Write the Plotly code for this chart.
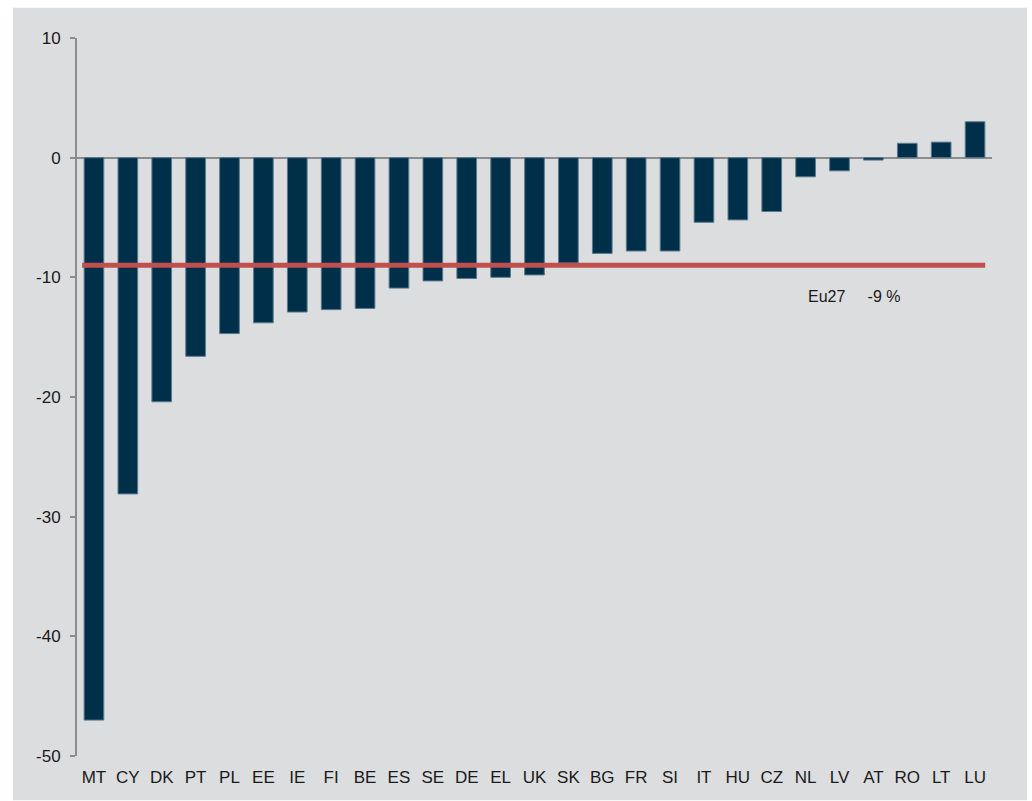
import plotly.graph_objects as go

# Country codes, ordered from the largest gap to the smallest
countries = ["MT", "CY", "DK", "PT", "PL", "EE", "IE", "FI", "BE", "ES", "SE", "DE", "EL",
             "UK", "SK", "BG", "FR", "SI", "IT", "HU", "CZ", "NL", "LV", "AT", "RO", "LT", "LU"]
values = [-47.0, -28.1, -20.4, -16.6, -14.7, -13.8, -12.9, -12.7, -12.6, -10.9, -10.3, -10.1, -10.0,
          -9.8, -8.8, -8.0, -7.8, -7.8, -5.4, -5.2, -4.5, -1.6, -1.1, -0.2, 1.2, 1.3, 3.0]

# EU-27 average
eu_label = "Eu27"
eu_value = -9

y_ticks = [10, 0, -10, -20, -30, -40, -50]
y_tick_text = ["10", "0", "-10", "-20", "-30", "-40", "-50"]

W, H = 1032, 801
left, right, top, bottom = 77, 992, 38.3, 755.7
pw, ph = right - left, bottom - top

panel_col = "#dcdddf"
bar_col = "#003049"
font_family = "Liberation Sans, Arial, sans-serif"

fig = go.Figure()
fig.add_trace(go.Bar(
    x=countries, y=values,
    marker=dict(color=bar_col, line=dict(color="#5a7a8e", width=1)),
    hoverinfo="x+y",
))

# grey panel behind the whole chart
fig.add_shape(type="rect", xref="paper", yref="paper", layer="below",
              x0=(13 - left) / pw, x1=(1027 - left) / pw,
              y0=(bottom - 800) / ph, y1=(bottom - 8) / ph,
              fillcolor=panel_col, line=dict(width=0))

# EU average line
fig.add_shape(type="line", xref="x", yref="y", x0=-0.35, x1=len(countries) - 0.7,
              y0=eu_value, y1=eu_value, line=dict(color="#c0504d", width=5))

nb = "\u00a0"
fig.add_annotation(x=21, y=-11.6, xref="x", yref="y", xanchor="left", yanchor="middle",
                   text=f"{eu_label}{nb * 5}{eu_value} %", showarrow=False,
                   font=dict(size=16, color="#1a1a1a", family=font_family))

fig.update_layout(
    width=W, height=H,
    margin=dict(l=left, r=W - right, t=top, b=H - bottom, pad=0),
    paper_bgcolor="white",
    plot_bgcolor="rgba(0,0,0,0)",
    bargap=0.42,
    showlegend=False,
    font=dict(family=font_family, size=17, color="#1a1a1a"),
    xaxis=dict(type="category", showgrid=False, showline=False, zeroline=False,
               ticks="", ticklabelstandoff=9, tickfont=dict(size=17),
               range=[-0.5, len(countries) - 0.5]),
    yaxis=dict(range=[-50, 10], tickvals=y_ticks, ticktext=y_tick_text, showgrid=False,
               showline=True, linecolor="#8c8c8c", linewidth=2,
               ticks="outside", ticklen=5, tickwidth=2, tickcolor="#8c8c8c",
               ticklabelstandoff=6,
               zeroline=True, zerolinecolor="#8c8c8c", zerolinewidth=2,
               tickfont=dict(size=17)),
)

fig.write_html("out.html")
